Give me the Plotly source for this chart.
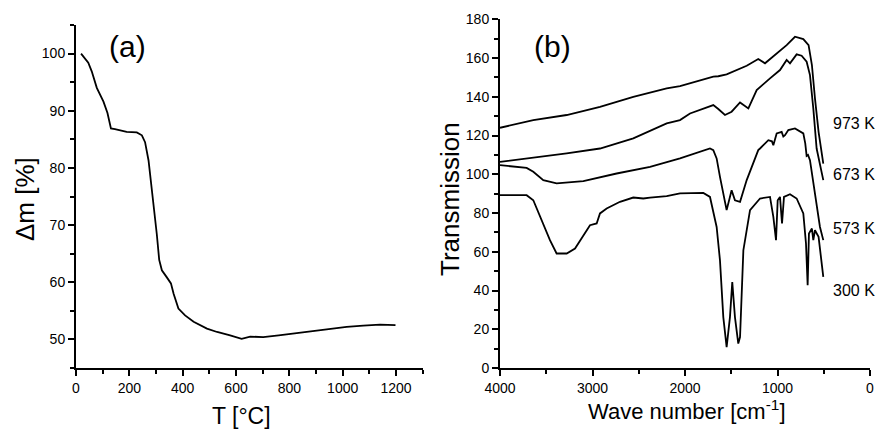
import plotly.graph_objects as go

# ---------------- data ----------------
# (a) thermogravimetry
tga_T = [19, 34, 46, 59, 78, 103, 118, 131, 146, 190, 228, 247, 259, 272, 284, 293, 303, 312,
         322, 340, 356, 366, 384, 409, 441, 491, 529, 578, 603, 621, 653, 702, 760, 827, 890,
         952, 1015, 1077, 1140, 1198]
tga_dm = [100, 99.1, 98.4, 96.9, 94, 91.6, 89.6, 86.9, 86.8, 86.3, 86.2, 85.7, 84.5, 81.3, 76.6,
          73.1, 68.4, 63.9, 62.1, 60.9, 59.8, 58, 55.4, 54.2, 53.1, 51.9, 51.3, 50.7, 50.3, 50.1,
          50.5, 50.4, 50.7, 51.1, 51.4, 51.9, 52.2, 52.4, 52.6, 52.5]

# (b) IR spectra
wn_973 = [4000, 3640, 3279, 2919, 2559, 2198, 2054, 1946, 1694, 1640, 1550, 1333, 1208, 1135,
          1009, 901, 811, 721, 664, 628, 595, 556, 505]
tr_973 = [124.0, 128.0, 130.6, 134.8, 140.0, 144.3, 145.5, 146.9, 150.4, 150.6, 151.6, 156.0,
          159.5, 157.3, 162.4, 166.7, 171.0, 169.8, 166.7, 156.4, 139.2, 121.9, 105.5]

wn_673 = [4000, 3640, 3279, 2919, 2559, 2198, 2054, 1946, 1694, 1640, 1568, 1496, 1405, 1315,
          1225, 1081, 973, 901, 865, 793, 739, 685, 649, 613, 577, 505]
tr_673 = [106.4, 108.5, 110.8, 113.3, 118.5, 126.3, 128.0, 131.4, 135.7, 133.7, 130.6, 132.3,
          137.1, 134.0, 143.5, 149.5, 153.8, 159.0, 157.3, 161.9, 161.2, 158.1, 151.2, 134.0,
          113.3, 97.0]

wn_573 = [4000, 3712, 3640, 3532, 3388, 3099, 2739, 2378, 2054, 1946, 1730, 1694, 1658, 1622,
          1550, 1496, 1460, 1405, 1333, 1208, 1189, 1099, 1060, 1045, 1009, 955, 937, 919, 883,
          811, 721, 700, 685, 670, 649, 541, 505]
tr_573 = [104.7, 103.3, 101.3, 97.0, 95.3, 96.5, 100.4, 103.8, 108.2, 109.9, 113.3, 112.5, 108.2,
          98.7, 81.5, 91.8, 86.6, 85.8, 97.0, 112.5, 113.3, 117.6, 117.0, 115.0, 121.1, 121.9,
          119.5, 120.2, 122.8, 123.7, 121.1, 116.0, 109.5, 110.0, 107.3, 72.8, 66.0]

wn_300 = [4000, 3712, 3640, 3568, 3460, 3388, 3279, 3189, 3099, 3027, 2955, 2919, 2847, 2703,
          2559, 2451, 2378, 2198, 2054, 1802, 1730, 1658, 1622, 1586, 1550, 1514, 1489, 1460,
          1424, 1405, 1369, 1351, 1297, 1189, 1081, 1045, 1016, 998, 973, 951, 930, 865, 793,
          721, 692, 674, 660, 628, 613, 595, 556, 505]
tr_300 = [89.2, 89.2, 86.6, 78.0, 66.0, 59.1, 59.1, 61.7, 68.6, 73.7, 74.6, 79.8, 82.3, 85.8,
          88.0, 87.5, 88.0, 88.7, 90.1, 90.4, 88.3, 72.8, 55.6, 26.3, 10.8, 26.3, 44.4, 26.3,
          12.6, 16.0, 60.8, 66.0, 81.5, 87.5, 88.3, 78.0, 66.0, 86.6, 88.3, 74.6, 88.3, 89.7,
          87.5, 79.8, 64.3, 42.7, 69.4, 72.0, 66.0, 71.1, 67.7, 47.0]

series_labels = ["973 K", "673 K", "573 K", "300 K"]
label_y = [126.4, 100.0, 72.2, 40.0]
label_x = 175

# ---------------- figure ----------------
W, H = 878, 435
FONT = "Liberation Sans, Arial, sans-serif"
line = dict(color="black", width=1.8)

fig = go.Figure()
fig.add_trace(go.Scatter(x=tga_T, y=tga_dm, mode="lines", line=line, xaxis="x", yaxis="y",
                         showlegend=False))
for wn, tr in [(wn_973, tr_973), (wn_673, tr_673), (wn_573, tr_573), (wn_300, tr_300)]:
    fig.add_trace(go.Scatter(x=wn, y=tr, mode="lines", line=line, xaxis="x2", yaxis="y2",
                             showlegend=False))

def px_x(p):
    return p / W

def px_y(p):
    return 1 - p / H

axis_common = dict(showline=True, linecolor="black", linewidth=2, ticks="outside",
                   ticklen=6, tickwidth=1.5, tickcolor="black", showgrid=False,
                   zeroline=False, mirror=False, automargin=False,
                   tickfont=dict(family=FONT, size=14, color="black"))

fig.update_layout(
    template="none",
    width=W, height=H,
    margin=dict(l=0, r=0, t=0, b=0, pad=0),
    paper_bgcolor="white", plot_bgcolor="white",
    font=dict(family=FONT, color="black"),
    xaxis=dict(domain=[px_x(76), px_x(422.7)], range=[0, 1300], dtick=200, tick0=0,
               minor=dict(dtick=100, ticks="outside", ticklen=4, tickcolor="black"),
               anchor="y", **axis_common),
    yaxis=dict(domain=[px_y(368), px_y(25)], range=[45, 105], dtick=10, tick0=50,
               minor=dict(dtick=5, ticks="outside", ticklen=4, tickcolor="black"),
               anchor="x", **axis_common),
    xaxis2=dict(domain=[px_x(500), px_x(870)], range=[4000, 0], dtick=1000, tick0=0,
                minor=dict(dtick=500, ticks="outside", ticklen=4, tickcolor="black"),
                anchor="y2", **axis_common),
    yaxis2=dict(domain=[px_y(368), px_y(19.3)], range=[0, 180], dtick=20, tick0=0,
                minor=dict(dtick=10, ticks="outside", ticklen=4, tickcolor="black"),
                anchor="x2", **axis_common),
)

def note(text, x, y, size, angle=0, xref="paper", yref="paper"):
    return dict(text=text, x=x, y=y, xref=xref, yref=yref, textangle=angle,
                xanchor="center", yanchor="middle", showarrow=False,
                font=dict(size=size, family=FONT, color="black"))

ann = [
    note("Δm [%]", px_x(25), px_y(199), 26, -90),
    note("T [°C]", px_x(241), px_y(416), 23),
    note("Transmission", px_x(450), px_y(199), 26, -90),
    note("Wave number [cm<sup>-1</sup>]", px_x(687), px_y(410), 22),
    note("(a)", px_x(127), px_y(47), 30),
    note("(b)", px_x(552), px_y(46), 30),
]
for lab, ly in zip(series_labels, label_y):
    ann.append(note(lab, label_x, ly, 16, xref="x2", yref="y2"))
fig.update_layout(annotations=ann)

fig.write_html(
    "out.html",
    config={"displayModeBar": False},
    post_script="document.body.style.margin='0px';document.body.style.overflow='hidden';",
)
